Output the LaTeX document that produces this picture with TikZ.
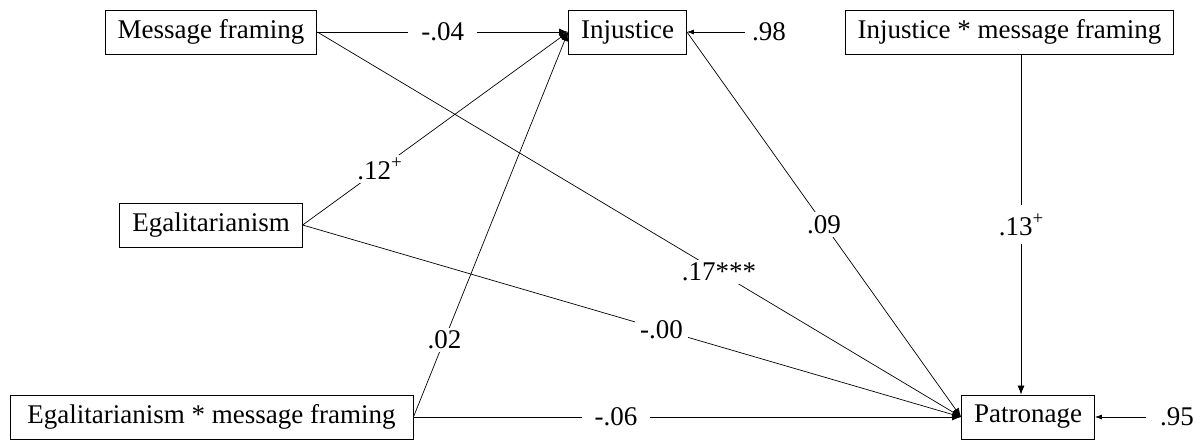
\documentclass[tikz,border=0pt]{standalone}
\usepackage{fontspec}
\setmainfont{Liberation Serif}
\usetikzlibrary{arrows.meta}
\newcommand{\supplus}{\raisebox{0.42em}{\fontsize{19}{20}\selectfont +}}
\begin{document}
\begin{tikzpicture}[x=1pt,y=-1pt,
  box/.style={draw, line width=0.9pt, minimum height=44, inner xsep=12.5, inner ysep=0, font=\fontsize{27}{32}\selectfont},
  lab/.style={fill=white, inner xsep=5, inner ysep=3, font=\fontsize{27}{32}\selectfont},
  conn/.style={line width=0.7pt, -{Latex[length=9,width=7]}},
  resid/.style={line width=0.7pt, -{Latex[length=7,width=5]}},
]
\useasboundingbox (0,0) rectangle (1201,439);
\node[box] (mf) at (211,32) {Message framing};
\node[box] (inj) at (627.5,32) {Injustice};
\node[box] (imf) at (1009.5,32) {Injustice * message framing};
\node[box] (egal) at (211,225) {Egalitarianism};
\node[box, minimum width=403] (emf) at (211.5,417) {Egalitarianism * message framing};
\node[box] (pat) at (1028,417) {Patronage};
% residuals
\node[lab, inner xsep=0, fill=none] (e1) at (769,32) {.98};
\node[lab, inner xsep=0, fill=none] (e2) at (1177,417) {.95};
\draw[resid, shorten <=7] (e1.west) -- (inj.east);
\draw[resid, shorten <=14] (e2.west) -- (pat.east);
% paths
\draw[conn] (mf.east) -- node[lab, inner xsep=13, midway] {-.04} (inj.west);
\draw[conn] (egal.east) -- node[lab, pos=0.29] {.12\supplus} (inj.west);
\draw[conn] (emf.east) -- node[lab, pos=0.2] {.02} (inj.west);
\draw[conn] (mf.east) -- node[lab, pos=0.624] {.17***} (pat.west);
\draw[conn] (egal.east) -- node[lab, pos=0.545] {-.00} (pat.west);
\draw[conn] (inj.east) -- node[lab, midway] {.09} (pat.west);
\draw[conn] (emf.east) -- node[lab, inner xsep=13, pos=0.37] {-.06} (pat.west);
\coordinate (vx) at (1021,0);
\draw[conn] (imf.south -| vx) -- node[lab, inner ysep=8, midway] {.13\supplus} (pat.north -| vx);
\end{tikzpicture}
\end{document}
